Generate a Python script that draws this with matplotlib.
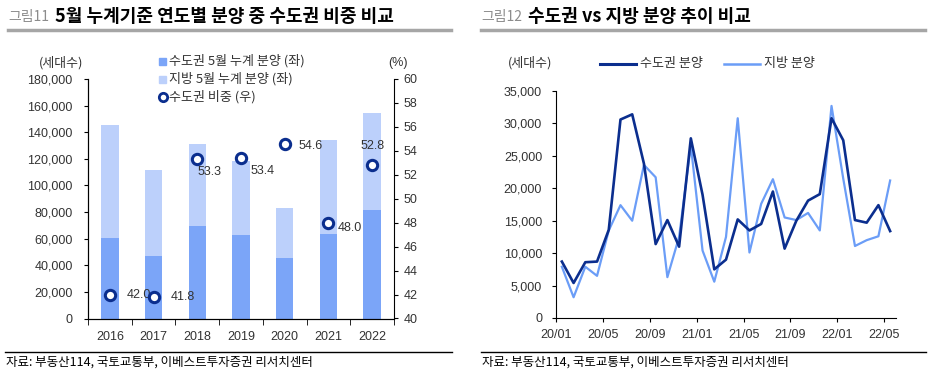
import matplotlib.pyplot as plt
from matplotlib.lines import Line2D
from matplotlib.patches import Rectangle
from matplotlib.ticker import StrMethodFormatter, FixedLocator

plt.rcParams['font.family'] = ['Liberation Sans', 'Noto Sans CJK KR', 'DejaVu Sans']

# left chart data
years = ['2016', '2017', '2018', '2019', '2020', '2021', '2022']
capital = [60600, 46600, 69600, 63100, 45300, 63800, 81600]
local = [84900, 64800, 61400, 55300, 38100, 70200, 72900]
share = [42.0, 41.8, 53.3, 53.4, 54.6, 48.0, 52.8]

# right chart data (monthly 20/01 ~ 22/05)
capital_m = [8700, 5400, 8600, 8700, 13600, 30600, 31400, 23800, 11400, 15100,
             11000, 27700, 19000, 7500, 9000, 15200, 13500, 14500, 19500, 10700,
             15000, 18100, 19100, 30800, 27400, 15100, 14700, 17400, 13400]
local_m = [7900, 3200, 7900, 6500, 13500, 17400, 15000, 23600, 21700, 6300,
           12500, 26600, 10400, 5600, 12500, 30800, 10100, 17600, 21400, 15500,
           15100, 16200, 13500, 32700, 21500, 11100, 12000, 12600, 21200]
month_labels = ['20/01', '20/05', '20/09', '21/01', '21/05', '21/09', '22/01', '22/05']

C_BAR_DARK = '#7BA5F8'
C_BAR_LIGHT = '#BCD0FB'
C_NAVY = '#0B2E8E'
C_LIGHT_LINE = '#6B9DF7'
TXT = '#333333'

W, H = 934, 378
fig = plt.figure(figsize=(W / 100, H / 100), dpi=100)


def fx(px):
    return px / W


def fy(py):
    return 1 - py / H


# titles and header lines
for x0, num, title in [(8, '그림11', '5월 누계기준 연도별 분양 중 수도권 비중 비교'),
                       (481, '그림12', '수도권 vs 지방 분양 추이 비교')]:
    fig.text(fx(x0), fy(17), num, fontsize=10, color='#8C8C8C',
             family=['Noto Sans CJK KR'], va='center')
    fig.text(fx(x0 + 47), fy(17), title, fontsize=13, color='black',
             family=['Noto Sans CJK KR'], fontweight='bold', va='center')
fig.add_artist(Line2D([fx(8), fx(451)], [fy(30), fy(30)], color='#A6A6A6', lw=2.5))
fig.add_artist(Line2D([fx(481), fx(925)], [fy(30), fy(30)], color='#A6A6A6', lw=2.5))

# footer
for x0, x1 in [(5, 452), (481, 926)]:
    fig.add_artist(Line2D([fx(x0), fx(x1)], [fy(352), fy(352)], color='black', lw=1))
    fig.text(fx(x0 + 1), fy(362), '자료: 부동산114, 국토교통부, 이베스트투자증권 리서치센터',
             fontsize=9, color='black', family=['Noto Sans CJK KR'], va='center')

# ---------------- left chart ----------------
ax = fig.add_axes([fx(88), fy(318.5), fx(394) - fx(88), fy(79) - fy(318.5)])
xs = list(range(len(years)))
ax.bar(xs, capital, width=0.4, color=C_BAR_DARK, zorder=2)
ax.bar(xs, local, bottom=capital, width=0.4, color=C_BAR_LIGHT, zorder=2)
ax.set_xlim(-0.5, 6.5)
ax.set_ylim(0, 180000)
ax.set_yticks(range(0, 180001, 20000))
ax.yaxis.set_major_formatter(StrMethodFormatter('{x:,.0f}'))
ax.set_xticks(xs)
ax.set_xticklabels(years)
ax.xaxis.set_minor_locator(FixedLocator([i - 0.5 for i in range(8)]))
ax.tick_params(axis='x', which='major', length=0, pad=9, labelsize=9, labelcolor=TXT)
ax.tick_params(axis='x', which='minor', length=4, direction='out')
ax.tick_params(axis='y', length=3, pad=8, labelsize=9, labelcolor=TXT)
ax.spines['top'].set_visible(False)
ax.spines['right'].set_visible(False)

ax2 = ax.twinx()
ax2.set_ylim(40, 60)
ax2.set_yticks(range(40, 61, 2))
ax2.tick_params(axis='y', length=3, pad=4, labelsize=9, labelcolor=TXT)
ax2.spines['top'].set_visible(False)
ax2.scatter(xs, share, s=55, facecolor='white', edgecolor=C_NAVY, linewidth=2.2, zorder=5)
share_offsets = [(12, 0), (12, 0), (0, -9), (7, -9), (10, -2), (7, -4), (0, 14)]
share_ha = ['left', 'left', 'left', 'left', 'left', 'left', 'center']
for x, v, off, ha in zip(xs, share, share_offsets, share_ha):
    ax2.annotate(f'{v:.1f}', (x, v), xytext=off, textcoords='offset points',
                 ha=ha, va='center', fontsize=9, color=TXT)

fig.text(fx(61), fy(63), '(세대수)', fontsize=9.3, color=TXT, ha='center', va='center',
         family=['Noto Sans CJK KR'])
fig.text(fx(398), fy(63), '(%)', fontsize=9, color=TXT, ha='center', va='center')

# left legend
leg_rows = [('square', C_BAR_DARK, '수도권 5월 누계 분양 (좌)', 61),
            ('square', C_BAR_LIGHT, '지방 5월 누계 분양 (좌)', 79),
            ('circle', C_NAVY, '수도권 비중 (우)', 97)]
for kind, col, label, y in leg_rows:
    if kind == 'square':
        fig.add_artist(Rectangle((fx(159), fy(y + 3.5)), fx(7), 7 / H, color=col))
    else:
        fig.add_artist(Line2D([fx(163)], [fy(y)], marker='o', markersize=6,
                              markerfacecolor='white', markeredgecolor=col,
                              markeredgewidth=2))
    fig.text(fx(169), fy(y), label, fontsize=9.4, color=TXT, va='center',
             family=['Noto Sans CJK KR'])

# ---------------- right chart ----------------
bx = fig.add_axes([fx(556), fy(318), fx(896) - fx(556), fy(91) - fy(318)])
mx = list(range(len(capital_m)))
bx.plot(mx, local_m, color=C_LIGHT_LINE, lw=1.6, zorder=2)
bx.plot(mx, capital_m, color=C_NAVY, lw=1.9, zorder=3)
bx.set_xlim(-0.5, len(capital_m) - 0.5)
bx.set_ylim(0, 35000)
bx.set_yticks(range(0, 35001, 5000))
bx.yaxis.set_major_formatter(StrMethodFormatter('{x:,.0f}'))
bx.set_xticks([i * 4 - 0.5 for i in range(len(month_labels))])
bx.set_xticklabels(month_labels)
bx.tick_params(axis='x', length=3, pad=5, labelsize=9, labelcolor=TXT)
bx.tick_params(axis='y', length=3, pad=7, labelsize=9, labelcolor=TXT)
bx.spines['top'].set_visible(False)
bx.spines['right'].set_visible(False)

fig.text(fx(530), fy(63), '(세대수)', fontsize=9.3, color=TXT, ha='center', va='center',
         family=['Noto Sans CJK KR'])
for x0, x1, col, lw, label in [(600, 636, C_NAVY, 2.2, '수도권 분양'),
                               (724, 760, C_LIGHT_LINE, 1.8, '지방 분양')]:
    fig.add_artist(Line2D([fx(x0), fx(x1)], [fy(64), fy(64)], color=col, lw=lw))
    fig.text(fx(x1 + 4), fy(63), label, fontsize=9.4, color=TXT, va='center',
             family=['Noto Sans CJK KR'])

fig.savefig('out.png', dpi=100)
